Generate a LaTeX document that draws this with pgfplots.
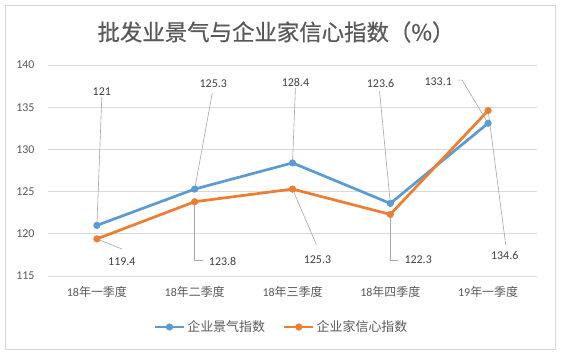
\documentclass[border=0pt]{standalone}
\usepackage{pgfplots}
\pgfplotsset{compat=1.18}
\usepackage{fontspec}
\setmainfont{Carlito}
\newfontfamily\cjk{Noto Sans CJK SC}
\newfontfamily\cjktitle[FakeBold=0.6]{Noto Sans CJK SC}
\definecolor{cblue}{HTML}{5B9BD5}
\definecolor{corange}{HTML}{ED7D31}
\definecolor{gridc}{HTML}{D9D9D9}
\definecolor{txt}{HTML}{595959}
\definecolor{lbl}{HTML}{404040}
\definecolor{leader}{HTML}{A6A6A6}
\begin{document}
\begin{tikzpicture}[x=1bp,y=1bp]
\path[use as bounding box] (0,0) rectangle (561,351);
\draw[gridc, line width=0.75bp] (5,1.5) rectangle (555.5,346);
\node[txt, font=\cjktitle\fontsize{22.5}{26}\selectfont] at (276,319) {批发业景气与企业家信心指数（\%）};
\begin{axis}[
  at={(48bp,75bp)}, anchor=south west, scale only axis,
  width=489bp, height=211bp,
  xmin=-0.5, xmax=4.5, ymin=115, ymax=140,
  ytick={115,120,...,140},
  xtick={0,1,2,3,4},
  xticklabels={18{\cjk 年一季度},18{\cjk 年二季度},18{\cjk 年三季度},18{\cjk 年四季度},19{\cjk 年一季度}},
  axis line style={draw=none},
  ymajorgrids, grid style={gridc, line width=0.75bp},
  major tick length=0,
  tick label style={txt, font=\fontsize{12}{14}\selectfont},
  /pgf/number format/assume math mode=true,
  yticklabel style={xshift=-10bp},
  xticklabel style={yshift=-7bp},
  clip=false,
  legend style={at={(0.4775,-0.2417)}, anchor=center, draw=none, fill=none,
    font=\cjk\fontsize{13}{15}\selectfont, text=txt,
    /tikz/every even column/.append style={column sep=16bp}},
  legend columns=2,
  legend image code/.code={\draw[mark repeat=2,mark phase=2,#1] plot coordinates {(0bp,0bp) (14.5bp,0bp) (29bp,0bp)};},
]
\addplot[cblue, line width=2.7bp, mark=*, mark size=3.3bp, mark options={solid, fill=cblue, draw=cblue, line width=0.5bp}]
  coordinates {(0,121) (1,125.3) (2,128.4) (3,123.6) (4,133.1)};
\addlegendentry{企业景气指数}
\addplot[corange, line width=2.7bp, mark=*, mark size=3.3bp, mark options={solid, fill=corange, draw=corange, line width=0.5bp}]
  coordinates {(0,119.4) (1,123.8) (2,125.3) (3,122.3) (4,134.6)};
\addlegendentry{企业家信心指数}
% leader lines
\draw[leader, line width=0.6bp] (axis cs:0,121) -- (axis cs:0.05,136.2);
\draw[leader, line width=0.6bp] (axis cs:1,125.3) -- (axis cs:1.18,136.7);
\draw[leader, line width=0.6bp] (axis cs:2,128.4) -- (axis cs:2.03,137.3);
\draw[leader, line width=0.6bp] (axis cs:3,123.6) -- (axis cs:2.89,136.9);
\draw[leader, line width=0.6bp] (axis cs:4,133.1) -- (axis cs:3.735,138.2) -- (axis cs:3.69,138.2);
\draw[leader, line width=0.6bp] (axis cs:0,119.4) -- (axis cs:0.255,118.2);
\draw[leader, line width=0.6bp] (axis cs:1,123.8) -- (axis cs:1,116.9) -- (axis cs:1.08,116.9);
\draw[leader, line width=0.6bp] (axis cs:2,125.3) -- (axis cs:2.245,118.7);
\draw[leader, line width=0.6bp] (axis cs:3,122.3) -- (axis cs:3,116.9) -- (axis cs:3.08,116.9);
\draw[leader, line width=0.6bp] (axis cs:4,134.6) -- (axis cs:4.18,118.7);
% labels
\begin{scope}[every node/.style={lbl, font=\fontsize{12}{14}\selectfont, inner sep=0pt}]
\node at (axis cs:0.05,136.8) {121};
\node at (axis cs:1.19,137.75) {125.3};
\node at (axis cs:2.03,137.99) {128.4};
\node at (axis cs:2.90,137.75) {123.6};
\node at (axis cs:3.49,137.99) {133.1};
\node at (axis cs:0.255,116.66) {119.4};
\node at (axis cs:1.285,116.78) {123.8};
\node at (axis cs:2.255,116.9) {125.3};
\node at (axis cs:3.285,116.9) {122.3};
\node at (axis cs:4.17,117.37) {134.6};
\end{scope}
\end{axis}
\end{tikzpicture}
\end{document}
